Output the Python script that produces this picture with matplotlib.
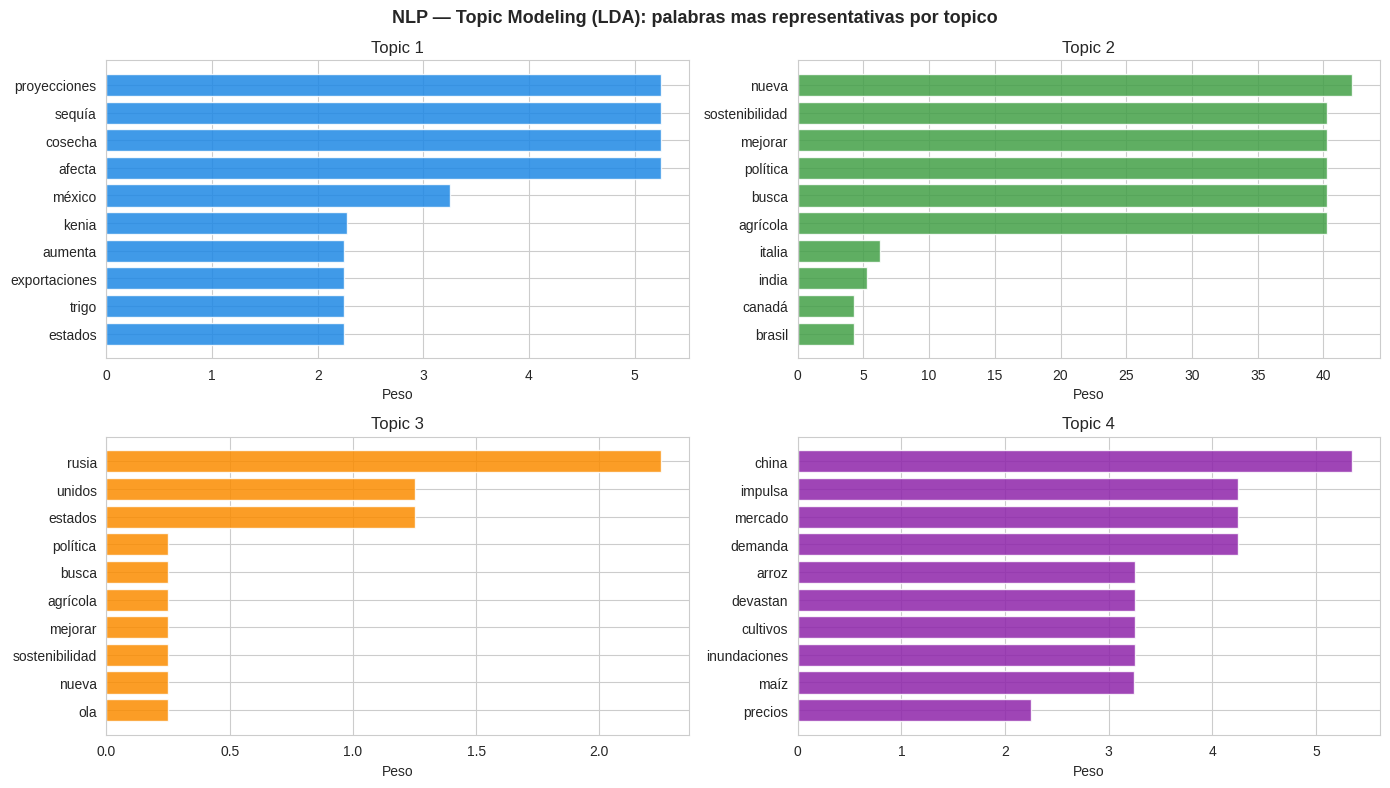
import matplotlib
matplotlib.use("Agg")
import matplotlib.pyplot as plt
import seaborn as sns

sns.set_style("whitegrid")
plt.rcParams['font.family'] = ['Liberation Sans', 'DejaVu Sans']

topic1_words = ["proyecciones", "sequía", "cosecha", "afecta", "méxico", "kenia", "aumenta", "exportaciones", "trigo", "estados"]
topic1_vals = [5.25, 5.25, 5.25, 5.25, 3.25, 2.28, 2.25, 2.25, 2.25, 2.25]

topic2_words = ["nueva", "sostenibilidad", "mejorar", "política", "busca", "agrícola", "italia", "india", "canadá", "brasil"]
topic2_vals = [42.2, 40.25, 40.25, 40.25, 40.25, 40.25, 6.25, 5.25, 4.25, 4.25]

topic3_words = ["rusia", "unidos", "estados", "política", "busca", "agrícola", "mejorar", "sostenibilidad", "nueva", "ola"]
topic3_vals = [2.25, 1.25, 1.25, 0.25, 0.25, 0.25, 0.25, 0.25, 0.25, 0.248]

topic4_words = ["china", "impulsa", "mercado", "demanda", "arroz", "devastan", "cultivos", "inundaciones", "maíz", "precios"]
topic4_vals = [5.35, 4.25, 4.25, 4.25, 3.25, 3.25, 3.25, 3.25, 3.24, 2.25]

titles = ["Topic 1", "Topic 2", "Topic 3", "Topic 4"]
colors = ["#1E88E5", "#43A047", "#FB8C00", "#8E24AA"]
words = [topic1_words, topic2_words, topic3_words, topic4_words]
vals = [topic1_vals, topic2_vals, topic3_vals, topic4_vals]

fig, axes = plt.subplots(2, 2, figsize=(14, 8), dpi=100)
for ax, t, c, w, v in zip(axes.flat, titles, colors, words, vals):
    ax.barh(w[::-1], v[::-1], color=c, alpha=0.85)
    ax.set_title(t, fontsize=12)
    ax.set_xlabel("Peso", fontsize=10)
    ax.tick_params(labelsize=10)

fig.suptitle("NLP — Topic Modeling (LDA): palabras mas representativas por topico",
             fontsize=13, fontweight="bold")
fig.tight_layout()
fig.savefig("out.png", dpi=100, bbox_inches="tight")
